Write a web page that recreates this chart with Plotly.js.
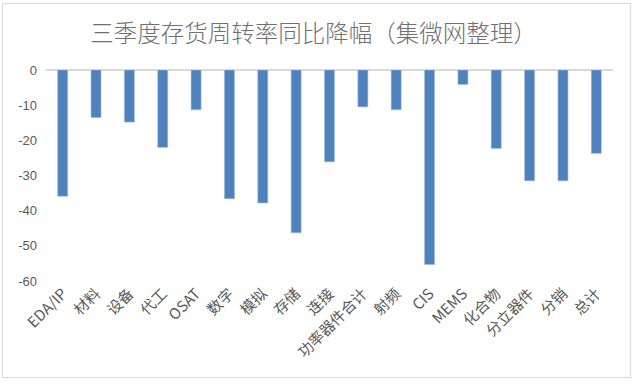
<!DOCTYPE html>
<html>
<head>
<meta charset="utf-8">
<script src="https://cdn.plot.ly/plotly-3.0.1.min.js"></script>
<style>
html,body{margin:0;padding:0;background:#fff;}
#wrap{position:absolute;left:2px;top:3px;width:629px;height:375px;border:1px solid #d9d9d9;box-sizing:border-box;}
#chart{position:absolute;left:0;top:0;width:640px;height:384px;}
</style>
</head>
<body>
<div id="wrap"></div>
<div id="chart"></div>
<script>
var categories = ["EDA/IP","材料","设备","代工","OSAT","数字","模拟","存储","连接","功率器件合计","射频","CIS","MEMS","化合物","分立器件","分销","总计"];
var values = [-35.9,-13.5,-14.8,-22.0,-11.3,-36.6,-37.8,-46.3,-26.1,-10.5,-11.3,-55.3,-4.1,-22.3,-31.5,-31.5,-23.7];
var yTicks = [0,-10,-20,-30,-40,-50,-60];

var trace = {
  type: "bar",
  x: categories,
  y: values,
  marker: {color: "#4F81BD", line: {color: "#9db8dd", width: 0.6}},
  hoverinfo: "x+y"
};

var layout = {
  width: 640,
  height: 384,
  paper_bgcolor: "rgba(0,0,0,0)",
  plot_bgcolor: "rgba(0,0,0,0)",
  margin: {l: 46, r: 27, t: 70, b: 103},
  title: {
    text: "三季度存货周转率同比降幅（集微网整理）",
    font: {family: "Noto Sans CJK SC", size: 23.5, color: "#707070", weight: 300},
    x: 0.49, xanchor: "center", y: 0.912, yanchor: "middle"
  },
  bargap: 0.7,
  showlegend: false,
  xaxis: {
    type: "category",
    tickangle: -45,
    showline: false,
    showgrid: false,
    ticks: "",
    tickfont: {family: "Noto Sans CJK SC, Liberation Sans", size: 15, color: "#595959"},
    automargin: false
  },
  yaxis: {
    range: [-60, 0],
    tickvals: yTicks,
    ticktext: yTicks.map(String),
    showgrid: false,
    zeroline: true,
    zerolinecolor: "#d9d9d9",
    zerolinewidth: 1.5,
    showline: false,
    ticks: "",
    ticklabelstandoff: 8,
    tickfont: {family: "Liberation Sans, Open Sans", size: 13, color: "#595959"},
    automargin: false
  }
};

Plotly.newPlot("chart", [trace], layout, {displayModeBar: false, staticPlot: true});
</script>
</body>
</html>
